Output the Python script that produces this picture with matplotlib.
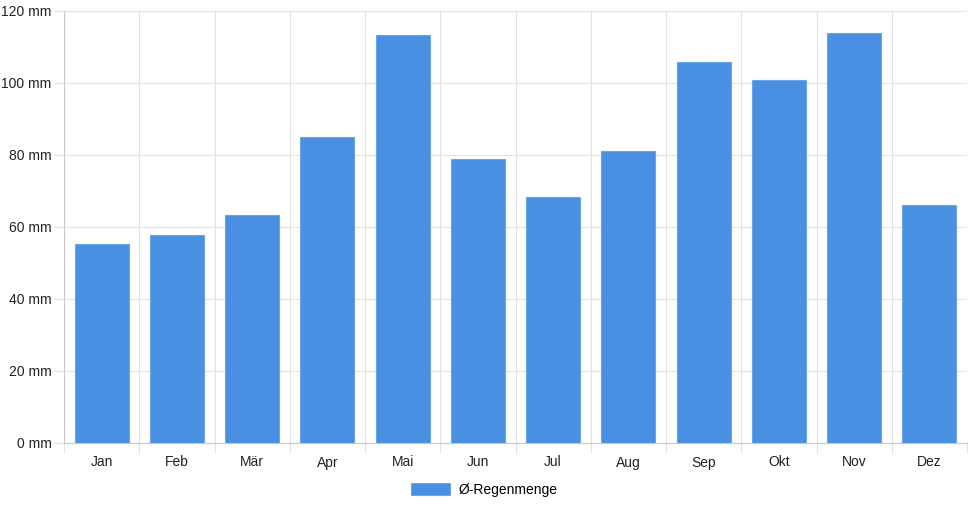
import matplotlib
matplotlib.use("Agg")
import matplotlib.pyplot as plt
import numpy as np

months = ["Jan", "Feb", "Mär", "Apr", "Mai", "Jun", "Jul", "Aug", "Sep", "Okt", "Nov", "Dez"]
rain_mm = [55.3, 57.8, 63.3, 85.0, 113.3, 78.9, 68.3, 81.1, 105.8, 100.7, 113.9, 66.0]
y_ticks = [0, 20, 40, 60, 80, 100, 120]
series_name = "Ø-Regenmenge"

plt.rcParams['font.family'] = ['Liberation Sans', 'DejaVu Sans']
plt.rcParams['font.size'] = 10

fig = plt.figure(figsize=(9.68, 5.08), dpi=100)
ax = fig.add_axes([64 / 968, 65 / 508, 903 / 968, 432 / 508])

x = np.arange(len(months))
ax.bar(x, rain_mm, width=0.72, color="#4a90e2", edgecolor="#6aa5ea",
       linewidth=0.8, label=series_name, zorder=3)

ax.set_xlim(-0.5, len(months) - 0.5)
ax.set_ylim(0, 120)
ax.set_yticks(y_ticks)
ax.set_yticklabels([f"{v} mm" for v in y_ticks])
ax.set_xticks(x)
ax.set_xticklabels(months)

# vertical grid lines sit between categories
ax.set_xticks(np.arange(-0.5, len(months)), minor=True)
ax.grid(True, which="minor", axis="x", color="#e2e2e2", linewidth=0.8, zorder=0)
ax.grid(True, which="major", axis="y", color="#e2e2e2", linewidth=0.8, zorder=0)
ax.tick_params(axis="x", which="major", length=0, pad=9, labelcolor="#222222")
ax.tick_params(axis="x", which="minor", length=7, color="#e2e2e2", width=0.8)
ax.tick_params(axis="y", length=7, color="#e2e2e2", width=0.8, pad=2, labelcolor="#222222")

for side in ["top", "right"]:
    ax.spines[side].set_visible(False)
ax.spines["left"].set_color("#c8c8c8")
ax.spines["bottom"].set_color("#c8c8c8")
ax.spines["left"].set_linewidth(0.8)
ax.spines["bottom"].set_linewidth(0.8)

fig.legend(loc="center", bbox_to_anchor=(484 / 968, 1 - 490 / 508), frameon=False,
           handlelength=2.8, handleheight=1.0, handletextpad=0.6)

fig.savefig("out.png", dpi=100)
